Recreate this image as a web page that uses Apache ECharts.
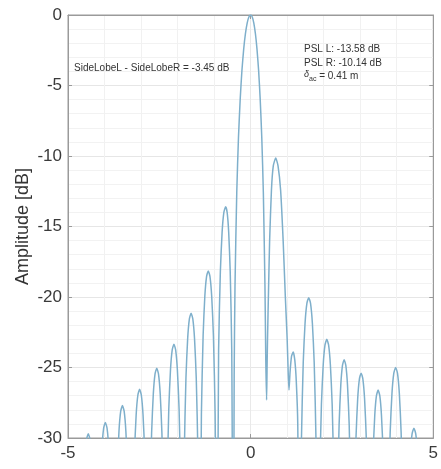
<!DOCTYPE html>
<html>
<head>
<meta charset="utf-8">
<script src="https://cdn.jsdelivr.net/npm/echarts@6/dist/echarts.min.js"></script>
<style>
html,body{margin:0;padding:0;background:#fff;}
#chart{width:441px;height:469px;}
</style>
</head>
<body>
<div id="chart"></div>
<script>
// x (range) and amplitude (dB)
const leftSideLobes = [
  [-5.000,-45],
  [-4.680,-45],[-4.633,-39.9],[-4.586,-34.3],[-4.539,-31.5],[-4.492,-30.1],[-4.445,-29.7],[-4.398,-30.1],[-4.351,-31.5],[-4.304,-34.3],[-4.257,-39.9],
  [-4.210,-45],[-4.164,-39.1],[-4.117,-33.5],[-4.071,-30.7],[-4.024,-29.3],[-3.978,-28.9],[-3.931,-29.3],[-3.885,-30.7],[-3.838,-33.5],[-3.792,-39.1],
  [-3.745,-45],[-3.698,-37.9],[-3.651,-32.3],[-3.604,-29.5],[-3.557,-28.1],[-3.510,-27.7],[-3.463,-28.1],[-3.416,-29.5],[-3.369,-32.3],[-3.322,-37.9],
  [-3.275,-45],[-3.228,-36.75],[-3.181,-31.15],[-3.134,-28.35],[-3.087,-26.95],[-3.040,-26.55],[-2.993,-26.95],[-2.946,-28.35],[-2.899,-31.15],[-2.852,-36.75],
  [-2.805,-45],[-2.758,-35.25],[-2.711,-29.65],[-2.664,-26.85],[-2.617,-25.45],[-2.570,-25.05],[-2.523,-25.45],[-2.476,-26.85],[-2.429,-29.65],[-2.382,-35.25],
  [-2.335,-45],[-2.288,-33.55],[-2.241,-27.95],[-2.194,-25.15],[-2.147,-23.75],[-2.100,-23.35],[-2.053,-23.75],[-2.006,-25.15],[-1.959,-27.95],[-1.912,-33.55],
  [-1.865,-45],[-1.818,-31.35],[-1.771,-25.75],[-1.724,-22.95],[-1.677,-21.55],[-1.630,-21.15],[-1.583,-21.55],[-1.536,-22.95],[-1.489,-25.75],[-1.442,-31.35],
  [-1.395,-45],[-1.348,-28.35],[-1.301,-22.75],[-1.254,-19.95],[-1.207,-18.55],[-1.160,-18.15],[-1.113,-18.55],[-1.066,-19.95],[-1.019,-22.75],[-0.972,-28.35],
  [-0.925,-45],[-0.877,-23.8],[-0.829,-18.2],[-0.781,-15.4],[-0.733,-14.0],[-0.685,-13.6],[-0.643,-14.0],[-0.601,-15.4],[-0.559,-18.2],[-0.517,-23.8]
];
const mainLobe = [
  [-0.475,-45],[-0.451,-25.6],[-0.428,-19.2],[-0.380,-12.6],[-0.333,-8.69],[-0.285,-5.94],[-0.238,-3.92],[-0.190,-2.42],[-0.143,-1.33],[-0.095,-0.57],[-0.048,-0.14],
  [0.000,0.0],
  [0.044,-0.14],[0.087,-0.57],[0.131,-1.33],[0.174,-2.42],[0.218,-3.92],[0.261,-5.94],[0.305,-8.69],[0.348,-12.6],[0.392,-19.2],[0.415,-24.5],[0.437,-27.3]
];
const rightSideLobes = [
  [0.450,-25.0],[0.462,-23.0],[0.490,-19.5],[0.520,-16.0],[0.570,-12.4],[0.620,-10.7],[0.687,-10.15],[0.750,-10.7],[0.820,-12.4],[0.890,-16.0],[0.950,-20.0],[1.000,-23.0],[1.030,-25.5],[1.050,-26.6],
  [1.080,-25.3],[1.120,-24.2],[1.166,-23.9],[1.210,-24.5],[1.250,-26.0],[1.290,-29.0],
  [1.340,-45],[1.390,-30.25],[1.440,-24.65],[1.490,-21.85],[1.540,-20.45],[1.590,-20.05],[1.640,-20.45],[1.690,-21.85],[1.740,-24.65],[1.790,-30.25],
  [1.840,-45],[1.889,-33.2],[1.938,-27.6],[1.987,-24.8],[2.036,-23.4],[2.085,-23.0],[2.134,-23.4],[2.183,-24.8],[2.232,-27.6],[2.281,-33.2],
  [2.330,-45],[2.376,-34.65],[2.422,-29.05],[2.468,-26.25],[2.514,-24.85],[2.560,-24.45],[2.606,-24.85],[2.652,-26.25],[2.698,-29.05],[2.744,-34.65],
  [2.790,-45],[2.837,-35.6],[2.884,-30.0],[2.931,-27.2],[2.978,-25.8],[3.025,-25.4],[3.072,-25.8],[3.119,-27.2],[3.166,-30.0],[3.213,-35.6],
  [3.260,-45],[3.306,-36.8],[3.352,-31.2],[3.398,-28.4],[3.444,-27.0],[3.490,-26.6],[3.536,-27.0],[3.582,-28.4],[3.628,-31.2],[3.674,-36.8],
  [3.720,-45],[3.770,-35.2],[3.820,-29.6],[3.870,-26.8],[3.920,-25.4],[3.970,-25.0],[4.020,-25.4],[4.070,-26.8],[4.120,-29.6],[4.170,-35.2],
  [4.220,-45],[4.270,-39.5],[4.320,-33.9],[4.370,-31.1],[4.420,-29.7],[4.470,-29.3],[4.520,-29.7],[4.570,-31.1],[4.620,-33.9],[4.670,-39.5],
  [4.720,-45],[5.000,-45]
];
const xTicks = [-5, 0, 5];
const yTicks = [-30, -25, -20, -15, -10, -5, 0];
const noteLeft = 'SideLobeL - SideLobeR = -3.45 dB';
const notePslL = 'PSL L: -13.58 dB';
const notePslR = 'PSL R: -10.14 dB';
const noteDelta = '0.41 m';

const FONT = '"Liberation Sans", Arial, Helvetica, sans-serif';
const xStep = xTicks[1] - xTicks[0];
const yStep = yTicks[1] - yTicks[0];

const chart = echarts.init(document.getElementById('chart'));
function axisBits() {
  return {
    axisLine: { show: true, onZero: false, lineStyle: { color: '#9a9a9a', width: 1 } },
    axisTick: { show: true, inside: true, length: 4, lineStyle: { color: '#9a9a9a' } }
  };
}
chart.setOption({
  animation: false,
  backgroundColor: '#ffffff',
  grid: { left: 68, top: 15, right: 6, bottom: 31, show: true, borderColor: '#9a9a9a', borderWidth: 1, containLabel: false },
  xAxis: [
    Object.assign({
      type: 'value', min: xTicks[0], max: xTicks[xTicks.length - 1], interval: xStep, position: 'bottom',
      axisLabel: { color: '#3a3a3a', fontSize: 17, fontFamily: FONT, margin: 7 },
      splitLine: { show: true, lineStyle: { color: '#e9e9e9', width: 1 } },
      minorTick: { show: false, splitNumber: 5 },
      minorSplitLine: { show: true, lineStyle: { color: '#f1f1f1', width: 1 } }
    }, axisBits()),
    Object.assign({
      type: 'value', min: xTicks[0], max: xTicks[xTicks.length - 1], interval: xStep, position: 'top',
      axisLabel: { show: false }, splitLine: { show: false }
    }, axisBits())
  ],
  yAxis: [
    Object.assign({
      type: 'value', min: yTicks[0], max: yTicks[yTicks.length - 1], interval: yStep, position: 'left',
      name: 'Amplitude [dB]', nameLocation: 'middle', nameGap: 36, nameMoveOverlap: false,
      nameTextStyle: { color: '#333', fontSize: 18, fontFamily: FONT },
      axisLabel: { color: '#3a3a3a', fontSize: 17, fontFamily: FONT, margin: 6 },
      splitLine: { show: true, lineStyle: { color: '#e6e6e6', width: 1 } },
      minorTick: { show: false, splitNumber: 5 },
      minorSplitLine: { show: true, lineStyle: { color: '#f2f2f2', width: 1 } }
    }, axisBits()),
    Object.assign({
      type: 'value', min: yTicks[0], max: yTicks[yTicks.length - 1], interval: yStep, position: 'right',
      axisLabel: { show: false }, splitLine: { show: false }
    }, axisBits())
  ],
  series: [{
    type: 'line',
    xAxisIndex: 0, yAxisIndex: 0,
    data: leftSideLobes.concat(mainLobe, rightSideLobes),
    showSymbol: false,
    symbol: 'none',
    smooth: 0.2,
    clip: true,
    lineStyle: { color: '#7eafcb', width: 1.5 },
    z: 5
  }],
  graphic: [
    { type: 'text', left: 74, top: 63, z: 10,
      style: { text: noteLeft, font: '10px ' + FONT, fill: '#333' } },
    { type: 'text', left: 304, top: 44, z: 10,
      style: { text: notePslL, font: '10px ' + FONT, fill: '#333' } },
    { type: 'text', left: 304, top: 58, z: 10,
      style: { text: notePslR, font: '10px ' + FONT, fill: '#333' } },
    { type: 'text', left: 304, top: 70, z: 10,
      style: {
        text: '{d|δ}{s|ac}{t| = ' + noteDelta + '}',
        rich: {
          d: { font: 'italic 9px ' + FONT, fill: '#333', verticalAlign: 'top' },
          s: { font: '7px ' + FONT, fill: '#333', padding: [6, 0, 0, 0] },
          t: { font: '10px ' + FONT, fill: '#333' }
        }
      } }
  ]
});
</script>
</body>
</html>
